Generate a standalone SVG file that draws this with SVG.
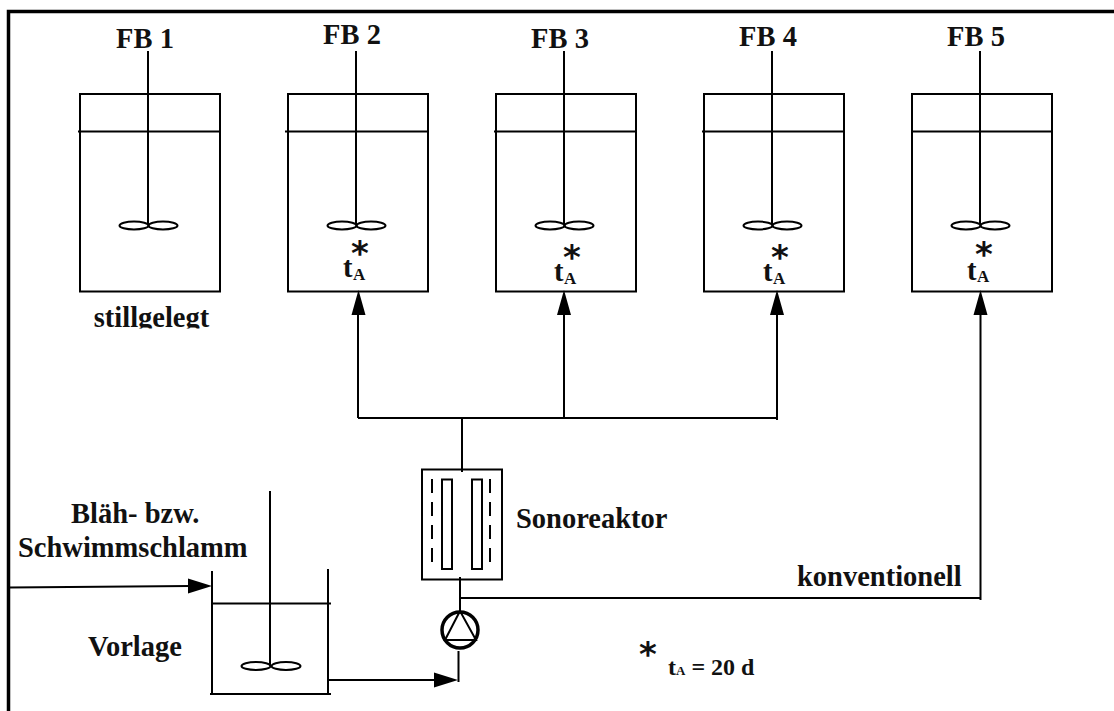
<svg xmlns="http://www.w3.org/2000/svg" width="1114" height="711" viewBox="0 0 1114 711">
<style>
.l{fill:none;stroke:#000;stroke-width:2}
.h{fill:#000;stroke:none}
text{font-family:"Liberation Serif","Times New Roman",serif;font-weight:bold;fill:#111;font-size:28.5px}
.ast{font-size:34px;text-anchor:middle;font-family:"DejaVu Sans",sans-serif;font-weight:bold}
.c{text-anchor:middle}
.sub{font-size:17px}
.note{font-size:24px}
</style>
<defs>
<g id="tank">
<rect class="l" x="0" y="0" width="140" height="197.500"/>
<path class="l" d="M68 -43V131"/>
<ellipse class="l" cx="54" cy="131.500" rx="14.500" ry="4"/>
<ellipse class="l" cx="83" cy="131.500" rx="14.500" ry="4"/>
</g>
<clipPath id="cut"><rect x="80" y="300" width="150" height="28.500"/></clipPath>
</defs>
<rect width="1114" height="711" fill="#fff"/>
<path id="frame" d="M8.500 711V11.500H1114" fill="none" stroke="#000" stroke-width="3.500"/>
<g id="fb1"><use href="#tank" x="80" y="94"/><path class="l" d="M78 131.500H220"/><text class="c" x="145" y="48">FB 1</text><text class="c" x="151.500" y="327" clip-path="url(#cut)">stillgelegt</text></g>
<g id="fb2"><use href="#tank" x="288" y="94"/><path class="l" d="M285 131.500H428"/><text class="c" x="352" y="44">FB 2</text><text class="ast" x="360" y="265">*</text><text x="343" y="277">t</text><text class="sub" x="353" y="280">A</text></g>
<g id="fb3"><use href="#tank" x="496" y="94"/><path class="l" d="M494 131.500H636"/><text class="c" x="560" y="47.500">FB 3</text><text class="ast" x="572" y="269">*</text><text x="554" y="281">t</text><text class="sub" x="564" y="284">A</text></g>
<g id="fb4"><use href="#tank" x="704" y="94"/><path class="l" d="M702 131.500H844"/><text class="c" x="768" y="46">FB 4</text><text class="ast" x="780" y="269">*</text><text x="763" y="281">t</text><text class="sub" x="773" y="284">A</text></g>
<g id="fb5"><use href="#tank" x="912" y="94"/><path class="l" d="M912 131.500H1052"/><text class="c" x="976" y="46">FB 5</text><text class="ast" x="984" y="266">*</text><text x="967" y="280">t</text><text class="sub" x="977" y="282">A</text></g>
<g id="sonoreaktor">
<rect class="l" x="422" y="469.500" width="80" height="110"/>
<rect class="l" x="442" y="479.500" width="10" height="89.500"/>
<rect class="l" x="472" y="479.500" width="10" height="89.500"/>
<path class="l" stroke-dasharray="14 9" d="M432 479V563M490 479V563"/>
<text x="516" y="528">Sonoreaktor</text>
</g>
<g id="vorlage">
<path class="l" d="M212 571V694M328 569V694M212 603.500H331M210 694H331M270 491V666"/>
<ellipse class="l" cx="256" cy="666" rx="14.500" ry="4"/>
<ellipse class="l" cx="286" cy="666" rx="14.500" ry="4"/>
<text x="88" y="656">Vorlage</text>
</g>
<g id="pump">
<circle cx="460" cy="630" r="18" fill="none" stroke="#000" stroke-width="3.500"/>
<path class="l" d="M460 611L445 640H476Z"/>
</g>
<g id="connectors">
<path class="l" d="M358 418V310M564 418V310M777 420V310M980.500 600V310M358 418H777M462 418V472M460 577V611M460 598H981M458.500 651V682M329 680H436M9 587.500L190 586"/>
<path class="h" d="M358.500 290L351.500 315H365.500ZM564 290L557 315H571ZM777 290L770 315H784ZM980.500 290L973.500 315H987.500ZM458 680L434 672.500V687.500ZM212 586L188 578.500V593.500Z"/>
</g>
<g id="labels">
<text x="71" y="523">Bläh- bzw.</text>
<text x="18" y="557">Schwimmschlamm</text>
<text x="797" y="586">konventionell</text>
<text class="ast" x="648" y="666">*</text>
<text class="note" x="668" y="675">t<tspan style="font-size:13px">A</tspan> = 20 d</text>
</g>
</svg>
